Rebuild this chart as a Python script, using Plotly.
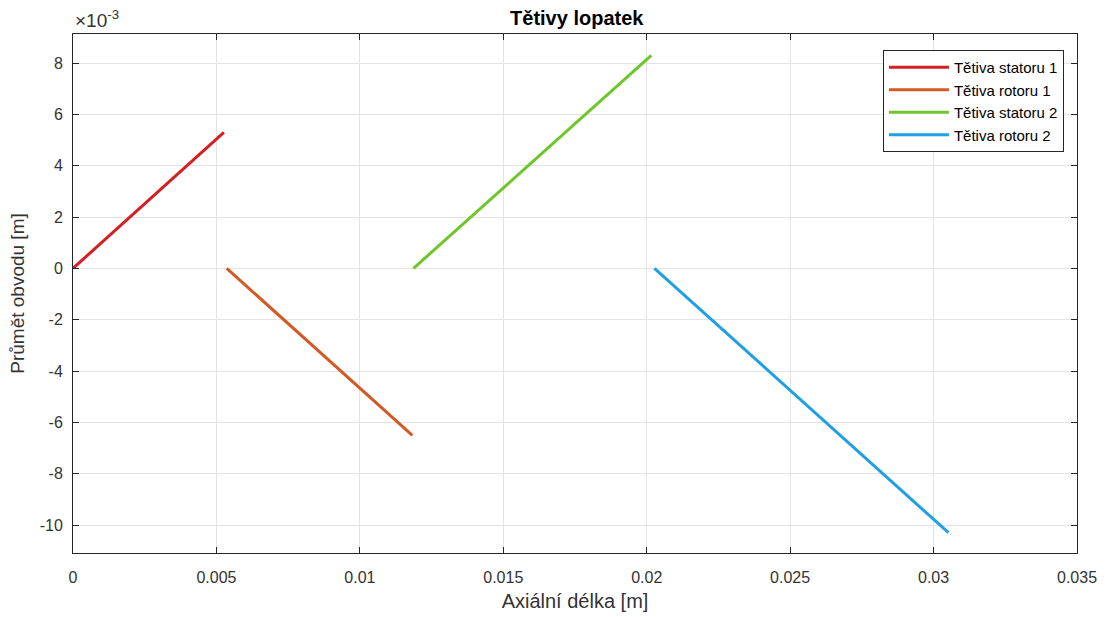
import plotly.graph_objects as go

# Blade chord end points (axial length x, circumferential projection y), metres
series_names = ["Tětiva statoru 1", "Tětiva rotoru 1", "Tětiva statoru 2", "Tětiva rotoru 2"]
series_x = [
    [0.0, 0.00526],
    [0.00536, 0.01183],
    [0.01187, 0.02016],
    [0.02027, 0.03052],
]
series_y = [
    [0.0, 0.00530],
    [0.0, -0.00651],
    [0.0, 0.00830],
    [0.0, -0.01030],
]
series_colors = ["#D71E24", "#D25A24", "#6FC62B", "#1F9FE6"]

x_ticks = [0, 0.005, 0.01, 0.015, 0.02, 0.025, 0.03, 0.035]
x_tick_text = ["0", "0.005", "0.01", "0.015", "0.02", "0.025", "0.03", "0.035"]
y_ticks = [-0.010, -0.008, -0.006, -0.004, -0.002, 0.0, 0.002, 0.004, 0.006, 0.008]
y_tick_text = ["-10", "-8", "-6", "-4", "-2", "0", "2", "4", "6", "8"]

FONT = "Liberation Sans, Arial, sans-serif"
AXIS_COLOR = "#262626"
TEXT_COLOR = "#333333"

fig = go.Figure()
for name, xs, ys, col in zip(series_names, series_x, series_y, series_colors):
    fig.add_trace(go.Scatter(x=xs, y=ys, mode="lines", name=name,
                             line=dict(color=col, width=3)))

axis_common = dict(
    showline=True, linecolor=AXIS_COLOR, linewidth=1, mirror="allticks",
    ticks="inside", ticklen=6, tickcolor=AXIS_COLOR,
    showgrid=True, gridcolor="#E3E3E3", gridwidth=1, automargin=False,
    zeroline=False, tickfont=dict(family=FONT, size=16, color=TEXT_COLOR),
)

fig.update_layout(
    width=1107, height=617,
    margin=dict(l=73, r=30, t=34, b=64),
    paper_bgcolor="white", plot_bgcolor="white",
    title=dict(text="<b>Tětivy lopatek</b>", x=0.521, xanchor="center",
               y=1 - 18 / 617, yanchor="middle",
               font=dict(family=FONT, size=20, color="#000000")),
    xaxis=dict(range=[0, 0.035], tickvals=x_ticks, ticktext=x_tick_text,
               ticklabelstandoff=10,
               title=dict(text="Axiální délka [m]", standoff=8,
                          font=dict(family=FONT, size=20, color=TEXT_COLOR)),
               **axis_common),
    yaxis=dict(range=[-0.01109, 0.00913], tickvals=y_ticks, ticktext=y_tick_text,
               ticklabelstandoff=6,
               title=dict(text="Průmět obvodu [m]", standoff=10,
                          font=dict(family=FONT, size=19, color=TEXT_COLOR)),
               **axis_common),
    legend=dict(x=0.987, xanchor="right", y=0.969, yanchor="top",
                bgcolor="white", bordercolor=AXIS_COLOR, borderwidth=1,
                font=dict(family=FONT, size=15, color="#000000"),
                itemwidth=60, tracegroupgap=0),
    showlegend=True,
)

fig.add_annotation(text="×10<sup>-3</sup>", xref="paper", yref="paper",
                   x=0, y=1, xanchor="left", yanchor="bottom", yshift=1,
                   showarrow=False, font=dict(family=FONT, size=19, color=TEXT_COLOR))

fig.write_html("out.html")
